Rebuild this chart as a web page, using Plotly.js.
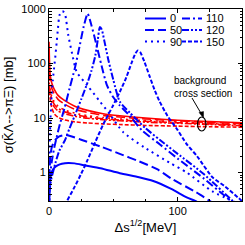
<!DOCTYPE html>
<html><head><meta charset="utf-8">
<script src="https://cdn.plot.ly/plotly-3.0.1.min.js"></script>
<style>html,body{margin:0;padding:0;background:#fff}#c{width:245px;height:245px}</style>
</head><body><div id="c"></div>
<script>
// Blue: resonance cross sections for several parameter values
const blue0X = [0, 0.3, 0.7, 1.2, 2, 3, 5, 7, 10, 15, 20, 28, 40, 55, 70, 81, 95, 107, 115, 118];
const blue0Y = [0.05, 0.5, 0.7, 0.85, 1.0, 1.12, 1.27, 1.37, 1.45, 1.5, 1.47, 1.35, 1.2, 0.97, 0.82, 0.7, 0.5, 0.35, 0.29, 0.26];
const blue50X = [0, 0.3, 0.7, 1.2, 2, 3, 5, 8, 13, 25, 40, 55, 70, 84, 96, 114, 125, 130];
const blue50Y = [0.05, 0.8, 1.5, 2.1, 2.8, 3.3, 4.0, 4.6, 4.9, 4.0, 3.0, 2.2, 1.6, 1.15, 0.75, 0.44, 0.3, 0.25];
const blue90X = [0, 0.3, 1, 2, 3, 4, 5, 6, 7, 8, 9.5, 11, 12.5, 15, 18, 21.5, 30, 40, 47, 57.6, 74, 94, 107, 127, 150];
const blue90Y = [0.05, 2, 8, 25, 50, 85, 140, 250, 450, 750, 900, 900, 800, 330, 150, 70, 39, 19.5, 12, 5.5, 2.9, 1.5, 1.0, 0.45, 0.25];
const blue110X = [0, 0.3, 1, 2, 4, 6, 8.5, 12, 16, 20, 24, 27, 30, 33, 37, 40.8, 45, 50, 55, 62.8, 72, 86, 100, 119.6, 138, 145];
const blue110Y = [0.05, 0.5, 0.9, 1.5, 2.8, 4.5, 7.8, 15, 35, 80, 220, 480, 820, 500, 214, 92, 40, 24, 17, 11, 6, 3.3, 1.8, 0.8, 0.35, 0.26];
const blue120X = [0, 0.3, 1, 2, 5, 8, 12.4, 16, 20, 25, 30, 33, 36, 38, 39.5, 41, 43, 46, 50, 55, 62.8, 75, 86, 100, 120, 143, 148];
const blue120Y = [0.05, 0.4, 0.6, 0.8, 1.5, 2.5, 3.9, 6.5, 11, 22, 45, 74, 140, 280, 465, 420, 260, 120, 50, 20, 12.5, 6.5, 4, 2.2, 0.95, 0.3, 0.25];
const blue150X = [10, 14, 20, 25, 30, 35.7, 42, 49.8, 55, 60, 64, 67, 69, 71, 74, 78, 82, 86, 92, 100, 106.7, 115, 127, 137, 146.7, 150];
const blue150Y = [0.2, 0.3, 0.55, 0.95, 1.7, 3.5, 7.5, 17, 30, 55, 100, 150, 173, 160, 110, 60, 33, 20, 11, 6, 3.4, 2.0, 0.82, 0.55, 0.35, 0.3];
// Red: background cross sections
const redX = [0, 0.5, 1, 2, 4, 7, 12, 20, 30, 42, 55, 75, 100, 125, 150];
const red0Y = [250, 90, 60, 45, 34, 26, 21, 16.5, 13.8, 12, 11, 10, 9.1, 8.6, 8.2];
const red50Y = [70, 55, 45, 36, 28, 22, 18, 14.5, 12.6, 11.2, 10.4, 9.6, 8.9, 8.3, 7.9];
const red90Y = [45, 38, 32, 26, 20, 16.5, 14, 12.3, 11, 10.2, 9.6, 9, 8.5, 8.0, 7.6];
const red110Y = [40, 33, 28, 23, 18, 15, 13, 11.5, 10.4, 9.7, 9.2, 8.7, 8.2, 7.8, 7.4];
const red120Y = [35, 30, 25, 20, 16, 13.5, 12, 10.8, 9.9, 9.3, 8.9, 8.4, 8.0, 7.6, 7.2];
const red150Y = [40, 30, 22, 16, 12, 10.3, 9.2, 8.5, 8.1, 7.8, 7.6, 7.3, 7.1, 6.9, 6.8];
const seriesNames = ['0', '50', '90', '110', '120', '150'];
const yTickVals = [1, 10, 100, 1000];
const yTickText = ['1', '10', '100', '1000'];
const xTickVals = [0, 100];
const xTickText = ['0', '100'];

const dashes = ['solid', '9px,4px', '2px,4px', '8px,3px,2px,3px', '7px,2px,2px,2px,2px,2px', '4px,2px'];
const blueX = [blue0X, blue50X, blue90X, blue110X, blue120X, blue150X];
const blueY = [blue0Y, blue50Y, blue90Y, blue110Y, blue120Y, blue150Y];
const redY = [red0Y, red50Y, red90Y, red110Y, red120Y, red150Y];
const BLUE = '#0000ff', RED = '#ff0000';

const traces = [];
for (let i = 0; i < 6; i++) {
  traces.push({x: redX, y: redY[i], mode: 'lines', line: {color: RED, width: 1.6, dash: dashes[i], shape: 'spline', smoothing: 0.6}, showlegend: false, hoverinfo: 'skip'});
}
for (let i = 0; i < 6; i++) {
  traces.push({x: blueX[i], y: blueY[i], mode: 'lines', name: seriesNames[i], line: {color: BLUE, width: 2, dash: dashes[i], shape: 'spline', smoothing: 0.6}, showlegend: false, hoverinfo: 'skip'});
}

// geometry helpers (pixel -> paper) for decorations
const L = 49, R = 242, T = 9, B = 201;
const px = v => (v - L) / (R - L);
const py = v => (B - v) / (B - T);

const shapes = [];
const annotations = [];
const legendRows = [18.5, 30, 41.5];
for (let i = 0; i < 6; i++) {
  const col = Math.floor(i / 3), row = i % 3;
  const x0 = col === 0 ? 145 : 182, x1 = col === 0 ? 166 : 202, tx = col === 0 ? 168 : 204;
  shapes.push({type: 'line', xref: 'paper', yref: 'paper', x0: px(x0), x1: px(x1), y0: py(legendRows[row]), y1: py(legendRows[row]), line: {color: BLUE, width: 2, dash: dashes[i]}});
  annotations.push({xref: 'paper', yref: 'paper', x: px(tx), y: py(legendRows[row]), xanchor: 'left', yanchor: 'middle', text: seriesNames[i], showarrow: false, font: {size: 11, color: '#000'}});
}
annotations.push({xref: 'paper', yref: 'paper', x: px(172), y: py(87), xanchor: 'left', yanchor: 'middle', align: 'left', text: 'background<br>cross section', showarrow: false, font: {size: 10, color: '#000'}});
// arrow: shaft + head
shapes.push({type: 'line', xref: 'paper', yref: 'paper', x0: px(192), y0: py(98), x1: px(202), y1: py(115), line: {color: '#000', width: 1}});
shapes.push({type: 'path', xref: 'paper', yref: 'paper',
  path: 'M' + px(203.5) + ',' + py(118) + ' L' + px(199) + ',' + py(112.5) + ' L' + px(203.5) + ',' + py(111.5) + ' Z',
  fillcolor: '#000', line: {color: '#000', width: 0.5}});
shapes.push({type: 'circle', xref: 'paper', yref: 'paper', x0: px(197.5), x1: px(206), y0: py(131), y1: py(117), line: {color: '#000', width: 1.2}});

const layout = {
  width: 245, height: 245,
  margin: {l: L, r: 245 - R, t: T, b: 245 - B},
  paper_bgcolor: '#fff', plot_bgcolor: '#fff',
  font: {family: 'Arial, "Liberation Sans", sans-serif', size: 11, color: '#000'},
  showlegend: false,
  xaxis: {range: [0, 150], tickvals: xTickVals, ticktext: xTickText, ticks: 'inside', ticklen: 4, tickcolor: '#000',
    minor: {dtick: 25, tick0: 0, ticks: 'inside', ticklen: 2.5, tickcolor: '#000'},
    showline: true, linecolor: '#000', linewidth: 1, mirror: 'allticks', showgrid: false, zeroline: false,
    tickfont: {size: 11}, title: {text: 'Δs<sup>1/2</sup>[MeV]', font: {size: 13}, standoff: 6}},
  yaxis: {type: 'log', range: [Math.log10(0.3), 3], tickvals: yTickVals, ticktext: yTickText, ticks: 'inside', ticklen: 4, tickcolor: '#000',
    minor: {dtick: 'D1', ticks: 'inside', ticklen: 2.5, tickcolor: '#000'},
    showline: true, linecolor: '#000', linewidth: 1, mirror: 'allticks', showgrid: false, zeroline: false,
    tickfont: {size: 11}, title: {text: 'σ(K\u0304Λ-->πΞ) [mb]', font: {size: 13}, standoff: 4}},
  shapes: shapes, annotations: annotations
};
Plotly.newPlot('c', traces, layout, {staticPlot: true, displayModeBar: false});
</script></body></html>
